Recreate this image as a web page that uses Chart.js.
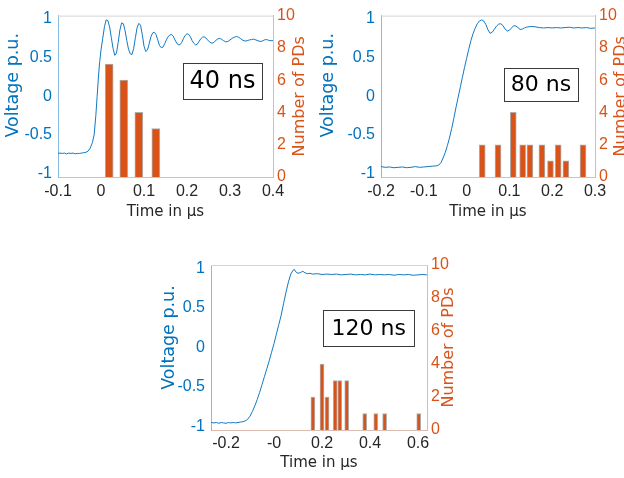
<!DOCTYPE html>
<html><head><meta charset="utf-8">
<script src="https://cdn.jsdelivr.net/npm/chart.js@4/dist/chart.umd.min.js"></script>
<style>
html,body{margin:0;padding:0;background:#fff;overflow:hidden;width:624px;height:478px;position:relative}
canvas{position:absolute}
</style></head><body>
<canvas id="c1" width="312" height="230" style="left:0px;top:0px;width:312px;height:230px"></canvas>
<canvas id="c2" width="330" height="230" style="left:312px;top:0px;width:330px;height:230px"></canvas>
<canvas id="c3" width="320" height="238" style="left:150px;top:240px;width:320px;height:238px"></canvas>
<script>
// ---------- DATA ----------
// Panel 1 (40 ns)
const t1 = [-0.100,-0.095,-0.090,-0.085,-0.080,-0.075,-0.070,-0.065,-0.060,-0.055,-0.050,-0.045,-0.040,-0.035,-0.030,-0.025,-0.020,-0.016,-0.012,-0.009,-0.006,-0.003,0.000,0.004,0.008,0.012,0.016,0.020,0.024,0.028,0.032,0.036,0.040,0.044,0.048,0.052,0.056,0.060,0.064,0.068,0.072,0.076,0.080,0.084,0.088,0.092,0.096,0.100,0.104,0.108,0.112,0.116,0.120,0.124,0.128,0.132,0.136,0.140,0.144,0.148,0.152,0.156,0.160,0.164,0.168,0.172,0.176,0.180,0.184,0.188,0.192,0.196,0.200,0.204,0.208,0.212,0.216,0.220,0.224,0.228,0.232,0.236,0.240,0.244,0.248,0.252,0.256,0.260,0.264,0.268,0.272,0.276,0.280,0.285,0.290,0.295,0.300,0.305,0.310,0.315,0.320,0.325,0.330,0.335,0.340,0.345,0.350,0.355,0.360,0.365,0.370,0.375,0.380,0.385,0.390,0.395,0.400];
const v1 = [-0.74,-0.735,-0.74,-0.735,-0.745,-0.735,-0.74,-0.735,-0.745,-0.74,-0.74,-0.735,-0.73,-0.725,-0.71,-0.67,-0.60,-0.50,-0.25,0.00,0.25,0.45,0.60,0.75,0.90,0.99,0.98,0.90,0.76,0.62,0.53,0.56,0.70,0.86,0.95,0.94,0.85,0.72,0.61,0.55,0.54,0.62,0.76,0.89,0.945,0.92,0.80,0.65,0.58,0.60,0.68,0.77,0.82,0.83,0.80,0.73,0.66,0.63,0.635,0.68,0.73,0.77,0.795,0.80,0.78,0.73,0.69,0.665,0.67,0.70,0.75,0.79,0.81,0.80,0.77,0.72,0.685,0.665,0.675,0.71,0.745,0.765,0.77,0.755,0.73,0.705,0.69,0.69,0.705,0.73,0.745,0.75,0.74,0.72,0.705,0.71,0.73,0.75,0.765,0.775,0.765,0.745,0.725,0.715,0.72,0.73,0.735,0.74,0.73,0.72,0.71,0.715,0.73,0.735,0.725,0.72,0.72];
const barT1 = [0.019,0.053,0.088,0.1275];
const barN1 = [7,6,4,3];

// Panel 2 (80 ns)
const t2 = [-0.200,-0.190,-0.180,-0.170,-0.160,-0.150,-0.140,-0.130,-0.120,-0.110,-0.100,-0.090,-0.080,-0.070,-0.065,-0.060,-0.055,-0.050,-0.045,-0.040,-0.035,-0.030,-0.025,-0.020,-0.015,-0.010,-0.005,0.000,0.005,0.010,0.015,0.020,0.025,0.030,0.035,0.040,0.045,0.050,0.055,0.060,0.065,0.070,0.075,0.080,0.085,0.090,0.095,0.100,0.105,0.110,0.115,0.120,0.125,0.130,0.135,0.140,0.150,0.160,0.170,0.180,0.190,0.200,0.210,0.220,0.230,0.240,0.250,0.260,0.270,0.280,0.290,0.300];
const v2 = [-0.91,-0.92,-0.915,-0.925,-0.92,-0.915,-0.925,-0.92,-0.91,-0.92,-0.915,-0.91,-0.905,-0.90,-0.89,-0.86,-0.80,-0.73,-0.64,-0.54,-0.42,-0.29,-0.15,-0.02,0.11,0.24,0.37,0.49,0.61,0.72,0.81,0.88,0.94,0.975,0.99,0.975,0.93,0.86,0.815,0.83,0.87,0.91,0.935,0.94,0.915,0.87,0.845,0.855,0.885,0.915,0.91,0.89,0.865,0.87,0.885,0.895,0.905,0.90,0.89,0.885,0.89,0.885,0.89,0.885,0.89,0.895,0.885,0.89,0.885,0.89,0.88,0.885];
const barT2 = [0.0365,0.0734,0.109,0.131,0.148,0.176,0.196,0.214,0.232,0.272];
const barN2 = [2,2,4,2,2,2,1,2,1,2];

// Panel 3 (120 ns)
const t3 = [-0.262,-0.250,-0.240,-0.230,-0.220,-0.210,-0.200,-0.190,-0.180,-0.170,-0.160,-0.150,-0.140,-0.130,-0.120,-0.110,-0.100,-0.090,-0.080,-0.070,-0.060,-0.050,-0.040,-0.030,-0.020,-0.010,0.000,0.010,0.020,0.030,0.040,0.050,0.060,0.070,0.080,0.085,0.090,0.100,0.110,0.120,0.130,0.140,0.150,0.160,0.180,0.200,0.220,0.240,0.260,0.280,0.300,0.320,0.340,0.360,0.380,0.400,0.420,0.440,0.460,0.480,0.500,0.520,0.540,0.560,0.580,0.600,0.620,0.637];
const v3 = [-0.95,-0.955,-0.95,-0.96,-0.95,-0.955,-0.96,-0.95,-0.955,-0.95,-0.955,-0.95,-0.945,-0.94,-0.93,-0.91,-0.87,-0.81,-0.74,-0.66,-0.57,-0.47,-0.37,-0.27,-0.17,-0.06,0.05,0.17,0.29,0.41,0.56,0.70,0.83,0.93,0.98,0.99,0.96,0.94,0.95,0.965,0.945,0.935,0.94,0.93,0.935,0.925,0.93,0.925,0.93,0.92,0.925,0.93,0.92,0.925,0.92,0.93,0.92,0.925,0.92,0.925,0.915,0.925,0.92,0.925,0.915,0.92,0.925,0.92];
const barT3 = [0.162,0.200,0.221,0.255,0.274,0.303,0.378,0.424,0.461,0.603];
const barN3 = [2,4,2,3,3,3,1,1,1,1];

// Tick values / labels
const xTicks1 = [-0.1,0,0.1,0.2,0.3,0.4];
const xLabels1 = ['-0.1','0','0.1','0.2','0.3','0.4'];
const xTicks2 = [-0.2,-0.1,0,0.1,0.2,0.3];
const xLabels2 = ['-0.2','-0.1','0','0.1','0.2','0.3'];
const xTicks3 = [-0.2,0,0.2,0.4,0.6];
const xLabels3 = ['-0.2','-0','0.2','0.4','0.6'];
const yLTicks = [-1,-0.5,0,0.5,1];
const yLLabels = ['-1','-0.5','0','0.5','1'];
const yRTicks = [0,2,4,6,8,10];
const yRLabels = ['0','2','4','6','8','10'];
const panelLabels = ['40 ns','80 ns','120 ns'];
const xTitle = 'Time in µs';
const yLTitle = 'Voltage p.u.';
const yRTitle = 'Number of PDs';

// ---------- STYLE ----------
const BLUE = '#0072BD', ORANGE = '#D95319', DARK = '#262626';
const TICKFONT = {family:'Liberation Sans', size:16};

const decor = {
  id:'decor',
  afterDraw(chart, args, o){
    const {ctx, chartArea:a} = chart;
    ctx.save();
    ctx.strokeStyle = '#d4d4d4'; ctx.lineWidth = 1;
    ctx.beginPath(); ctx.moveTo(a.left, a.top+0.5); ctx.lineTo(a.right, a.top+0.5); ctx.stroke();
    // vertical axis titles (both read bottom-to-top)
    const vt = (x, y, text, color, font) => {
      ctx.save();
      ctx.translate(x, y); ctx.rotate(-Math.PI/2);
      ctx.font = font; ctx.fillStyle = color;
      ctx.textAlign='center'; ctx.textBaseline='middle';
      ctx.fillText(text, 0, 0);
      ctx.restore();
    };
    vt(o.rtX, (a.top+a.bottom)/2, o.rtText, ORANGE, '16px "DejaVu Sans"');
    vt(o.ltX, (a.top+a.bottom)/2 + o.ltDy, o.ltText, BLUE, '17.5px "DejaVu Sans"');
    // label box
    const bx = o.box;
    ctx.fillStyle='#fff'; ctx.fillRect(bx.cx-bx.w/2, bx.cy-bx.h/2, bx.w, bx.h);
    ctx.strokeStyle='#3a3a3a'; ctx.lineWidth=1;
    ctx.strokeRect(Math.round(bx.cx-bx.w/2)+0.5, Math.round(bx.cy-bx.h/2)+0.5, bx.w, bx.h);
    ctx.fillStyle='#000'; ctx.font = bx.font; ctx.textAlign='center'; ctx.textBaseline='middle';
    ctx.fillText(bx.text, bx.cx, bx.cy+1);
    ctx.restore();
  }
};

function makeChart(id, g, t, v, bt, bn, xmin, xmax, xt, xl, label){
  const line = t.map((x,i)=>({x:x, y:v[i]}));
  const bars = bt.map((x,i)=>({x:x, y:bn[i]}));
  return new Chart(document.getElementById(id), {
    type:'line',
    data:{datasets:[
      {type:'bar', data:bars, yAxisID:'yR', xAxisID:'x', backgroundColor:ORANGE,
       borderColor:'rgba(110,110,110,0.55)', borderWidth:1, barThickness:g.barW, order:0},
      {type:'line', data:line, yAxisID:'yL', xAxisID:'x', borderColor:'#1279c4', borderWidth:1,
       pointRadius:0, tension:0, fill:false, order:1}
    ]},
    options:{
      responsive:false, animation:false, events:[],
      layout:{padding:{top:g.T, left:0, right:0, bottom:0}},
      plugins:{legend:{display:false}, tooltip:{enabled:false},
        decor:{rtX:g.rtX, rtText:yRTitle, ltX:g.ltX, ltDy:g.ltDy, ltText:yLTitle,
          box:{cx:g.bx, cy:g.by, w:g.bw, h:g.bh, text:label, font:g.bf+'px "DejaVu Sans"'}}},
      scales:{
        x:{type:'linear', position:'bottom', min:xmin, max:xmax, offset:false,
          afterBuildTicks:s=>{s.ticks = xt.map(val=>({value:val}));},
          afterFit:s=>{s.height = g.B;},
          grid:{display:false, drawTicks:false},
          border:{display:true, color:'#dcbcae', width:1},
          ticks:{color:DARK, font:TICKFONT, padding:g.xtp, maxRotation:0, autoSkip:false,
            callback:(val,i)=>xl[i]},
          title:{display:true, text:xTitle, color:DARK, font:{family:'DejaVu Sans', size:15},
            padding:{top:0, bottom:g.xtb}}
        },
        yL:{type:'linear', position:'left', min:-1.045, max:1.045,
          afterBuildTicks:s=>{s.ticks = yLTicks.map(val=>({value:val}));},
          afterFit:s=>{s.width = g.L;},
          grid:{display:false, drawTicks:false},
          border:{display:true, color:'#86bce4', width:1},
          ticks:{color:BLUE, font:TICKFONT, padding:6, autoSkip:false, callback:(val,i)=>yLLabels[i]},
          title:{display:false}
        },
        yR:{type:'linear', position:'right', min:0, max:10,
          afterBuildTicks:s=>{s.ticks = yRTicks.map(val=>({value:val}));},
          afterFit:s=>{s.width = g.R;},
          grid:{display:false, drawTicks:false},
          border:{display:true, color:'#f0b496', width:1},
          ticks:{color:ORANGE, font:TICKFONT, padding:4, autoSkip:false, callback:(val,i)=>yRLabels[i]},
          title:{display:false}
        }
      }
    },
    plugins:[decor]
  });
}

makeChart('c1', {T:13, B:53, L:58, R:39, barW:8, rtX:300, ltX:13.5, ltDy:-11, bx:222.5, by:81, bw:79, bh:36, bf:24, xtp:5, xtb:8.5},
  t1, v1, barT1, barN1, -0.1, 0.4, xTicks1, xLabels1, panelLabels[0]);
makeChart('c2', {T:13, B:53, L:69, R:47, barW:6, rtX:309, ltX:16.5, ltDy:-11, bx:229, by:84, bw:74, bh:33, bf:22, xtp:5, xtb:8.5},
  t2, v2, barT2, barN2, -0.2, 0.3, xTicks2, xLabels2, panelLabels[1]);
makeChart('c3', {T:25, B:48, L:61, R:43, barW:4, rtX:299, ltX:19, ltDy:-10, bx:218.7, by:88, bw:91, bh:36, bf:22, xtp:4, xtb:6},
  t3, v3, barT3, barN3, -0.2625, 0.6375, xTicks3, xLabels3, panelLabels[2]);
</script>
</body></html>
